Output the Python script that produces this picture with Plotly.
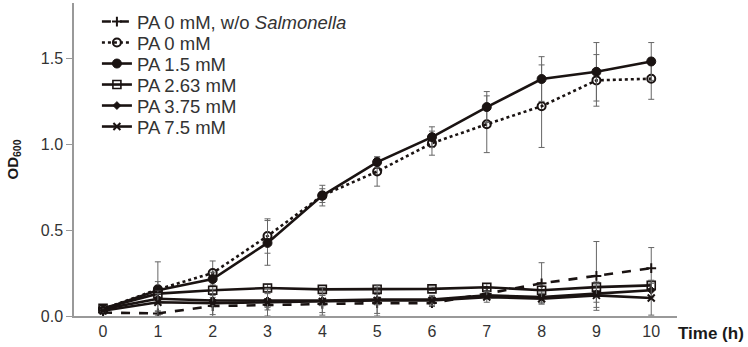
import plotly.graph_objects as go

time_h = [0, 1, 2, 3, 4, 5, 6, 7, 8, 9, 10]

names = [
    "PA 0 mM, w/o <i>Salmonella</i>",
    "PA 0 mM",
    "PA 1.5 mM",
    "PA 2.63 mM",
    "PA 3.75 mM",
    "PA 7.5 mM",
]

od_wo = [0.02, 0.015, 0.058, 0.065, 0.07, 0.075, 0.075, 0.13, 0.19, 0.233, 0.278]
od_0 = [0.04, 0.155, 0.25, 0.465, 0.70, 0.84, 1.005, 1.115, 1.22, 1.37, 1.38]
od_15 = [0.04, 0.15, 0.215, 0.425, 0.70, 0.895, 1.04, 1.215, 1.378, 1.42, 1.48]
od_263 = [0.045, 0.13, 0.15, 0.163, 0.155, 0.155, 0.158, 0.167, 0.15, 0.168, 0.178]
od_375 = [0.04, 0.10, 0.09, 0.09, 0.09, 0.095, 0.095, 0.12, 0.11, 0.13, 0.15]
od_75 = [0.03, 0.08, 0.075, 0.08, 0.085, 0.09, 0.09, 0.11, 0.10, 0.12, 0.105]

err_wo = [0.01, 0.01, 0.05, 0.03, 0.05, 0.06, 0.02, 0.03, 0.12, 0.20, 0.12]
err_0 = [0.01, 0.16, 0.07, 0.10, 0.04, 0.085, 0.07, 0.165, 0.24, 0.15, 0.12]
err_15 = [0.01, 0.05, 0.04, 0.13, 0.06, 0.03, 0.06, 0.09, 0.13, 0.17, 0.11]
err_263 = [0.01, 0.02, 0.02, 0.02, 0.01, 0.01, 0.01, 0.02, 0.03, 0.03, 0.03]
err_375 = [0.01, 0.03, 0.03, 0.04, 0.03, 0.03, 0.02, 0.02, 0.03, 0.05, 0.04]
err_75 = [0.01, 0.05, 0.08, 0.08, 0.08, 0.09, 0.03, 0.03, 0.03, 0.07, 0.10]

x_ticks = [0, 1, 2, 3, 4, 5, 6, 7, 8, 9, 10]
y_ticks = [0.0, 0.5, 1.0, 1.5]
y_tick_text = ["0.0", "0.5", "1.0", "1.5"]

INK = "#1a1312"
ERR = "#666666"

series = [
    (od_wo, err_wo, "dash", "cross-thin", 7, 2),
    (od_0, err_0, "dot", "circle-open", 8, 2),
    (od_15, err_15, "solid", "circle", 9, 1),
    (od_263, err_263, "solid", "square-open", 8, 1.6),
    (od_375, err_375, "solid", "diamond", 6, 1),
    (od_75, err_75, "solid", "x-thin", 7, 2),
]

# plot area geometry (pixels) used to place one legend per row
PLOT_TOP, PLOT_BOTTOM = 3, 316
ROW_PX0, ROW_STEP = 22, 21

fig = go.Figure()
legend_layouts = {}
for i, (name, (vals, errs, dash, sym, size, mlw)) in enumerate(zip(names, series)):
    key = "legend" if i == 0 else f"legend{i + 1}"
    fig.add_trace(go.Scatter(
        x=time_h, y=vals, name=name, mode="lines+markers", legend=key,
        line=dict(color=INK, width=2.6, dash=dash),
        marker=dict(symbol=sym, size=size, color=INK,
                    line=dict(color=INK, width=mlw)),
        error_y=dict(type="data", array=errs, visible=True,
                     color=ERR, thickness=1, width=3),
    ))
    row_px = ROW_PX0 + ROW_STEP * i
    legend_layouts[key] = dict(
        x=0.038, y=(PLOT_BOTTOM - row_px) / (PLOT_BOTTOM - PLOT_TOP),
        xanchor="left", yanchor="middle",
        bgcolor="rgba(0,0,0,0)", borderwidth=0,
        font=dict(size=18.5, color="#333333"), itemwidth=30,
    )

fig.update_layout(
    width=748, height=347,
    margin=dict(l=74, r=71, t=3, b=31, autoexpand=False),
    paper_bgcolor="white", plot_bgcolor="white",
    font=dict(family="Arial, Liberation Sans, sans-serif", size=16, color="#333333"),
    showlegend=True,
    xaxis=dict(range=[-0.53, 10.47], tickvals=x_ticks,
               ticktext=[str(v) for v in x_ticks], automargin=False,
               showgrid=False, zeroline=False, showline=True,
               linecolor="#999999", linewidth=1.5, ticks="",
               tickfont=dict(size=16, color="#333333")),
    yaxis=dict(range=[0, 1.82], tickvals=y_ticks, ticktext=y_tick_text,
               automargin=False,
               showgrid=False, zeroline=False, showline=True,
               linecolor="#999999", linewidth=1.5, ticks="outside",
               ticklen=6, tickcolor="#999999",
               tickfont=dict(size=16, color="#333333")),
    **legend_layouts,
)

fig.add_annotation(text="<b>OD<sub>600</sub></b>", xref="paper", yref="paper",
                   x=0, y=0.5, xanchor="center", yanchor="middle",
                   xshift=-61, textangle=-90, showarrow=False,
                   font=dict(size=15, color="#1a1a1a"))

fig.add_annotation(text="<b>Time (h)</b>", xref="paper", yref="paper",
                   x=1.0, y=0, xanchor="left", yanchor="top",
                   xshift=-1, yshift=-6, showarrow=False,
                   font=dict(size=17, color="#1a1a1a"))

fig.write_html("out.html", config={"displayModeBar": False},
               post_script="document.body.style.margin='0';document.body.style.padding='0';")
